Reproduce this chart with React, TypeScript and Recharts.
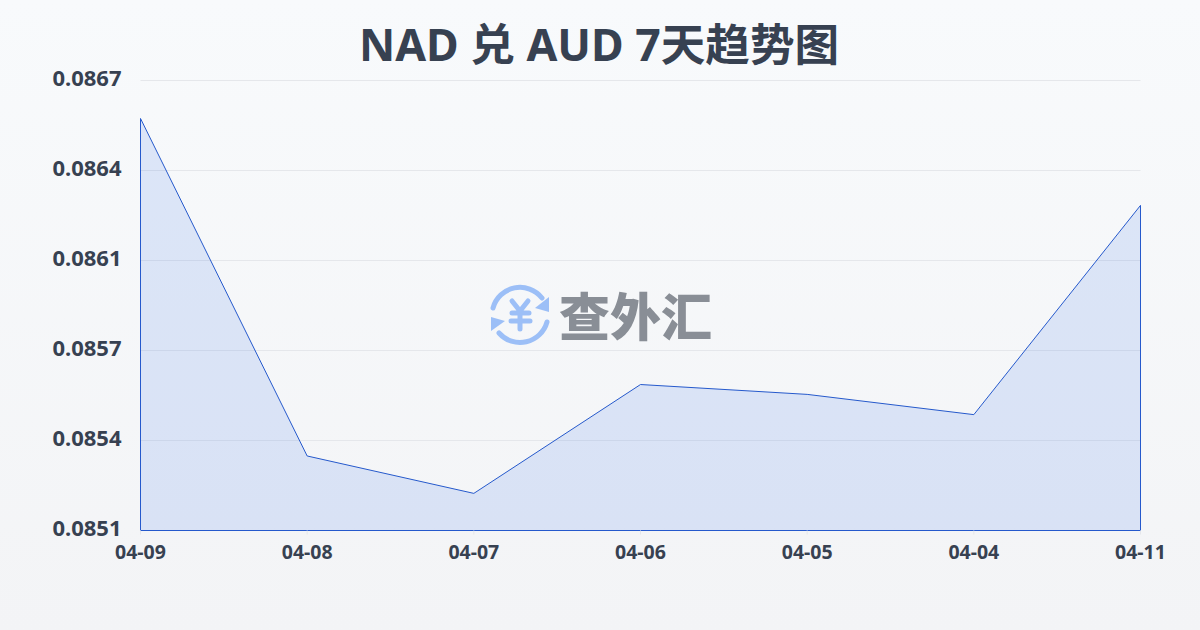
import { AreaChart, Area, XAxis, YAxis, CartesianGrid, ReferenceLine } from 'recharts';

const dates = ['04-09', '04-08', '04-07', '04-06', '04-05', '04-04', '04-11'];
const rates = [0.086565, 0.085365, 0.085232, 0.085619, 0.085584, 0.085512, 0.086256];
const yTicks = [0.0851, 0.08542, 0.08574, 0.08606, 0.08638, 0.0867];

const FONT = '"Noto Sans", "Noto Sans CJK SC", sans-serif';
const LINE = '#2559cc';
const chartData = dates.map((date, i) => ({ date, rate: rates[i] }));

// Exchange logo sitting in the middle of the plot
function Watermark() {
  return (
    <div style={{ position: 'absolute', left: 488, top: 284, width: 230, height: 62, pointerEvents: 'none' }}>
      <svg width={64} height={62} viewBox="0 0 64 62" style={{ position: 'absolute', left: 0, top: 0 }}>
        <g fill="none" stroke="#9cbff7" strokeWidth={5} strokeLinecap="round">
          <path d="M5 24 A28 28 0 0 1 54 14" />
          <path d="M59 38 A28 28 0 0 1 11 49" />
          <path d="M24 17 L32 27 L40 17 M32 27 L32 45 M24 29 H41 M23 37 H42" />
        </g>
        <path d="M61 13 L61 28 L47 24 Z" fill="#9cbff7" />
        <path d="M3 33 L3 47 L17 37 Z" fill="#9cbff7" />
      </svg>
      <div
        style={{
          position: 'absolute',
          left: 71,
          top: -1,
          fontFamily: '"Noto Sans CJK SC", sans-serif',
          fontWeight: 900,
          fontSize: 51,
          lineHeight: '62px',
          color: '#898e96',
          whiteSpace: 'nowrap',
        }}
      >
        查外汇
      </div>
    </div>
  );
}

export default function App() {
  const lastDate = dates[dates.length - 1];
  const lastRate = rates[rates.length - 1];
  return (
    <div
      style={{
        position: 'absolute',
        left: 0,
        top: 0,
        width: 1200,
        height: 630,
        overflow: 'hidden',
        background: 'linear-gradient(180deg, #f8fafc 0%, #f3f4f6 100%)',
        fontFamily: FONT,
      }}
    >
      <div
        style={{
          position: 'absolute',
          left: 0,
          top: 14,
          width: 1198,
          textAlign: 'center',
          fontSize: 44.6,
          lineHeight: '60px',
          fontWeight: 700,
          color: '#374151',
        }}
      >
        NAD 兑 AUD 7天趋势图
      </div>
      <div style={{ position: 'absolute', left: 0, top: 0 }}>
        {/* half pixel margins keep the 1px grid lines crisp */}
        <AreaChart width={1200} height={630} data={chartData} margin={{ top: 80.5, right: 59.5, bottom: 0, left: 0 }}>
          <CartesianGrid horizontal vertical={false} stroke="#e5e7eb" strokeWidth={1} />
          <XAxis
            dataKey="date"
            interval={0}
            scale="point"
            height={99.5}
            axisLine={false}
            tickLine={{ stroke: '#e5e7eb' }}
            tickSize={4}
            tickMargin={11}
            tick={{ fill: '#374151', fontSize: 19.5, fontWeight: 700, fontFamily: FONT }}
          />
          <YAxis
            width={140.5}
            domain={[0.0851, 0.0867]}
            ticks={yTicks}
            tickFormatter={(v: number) => v.toFixed(4)}
            axisLine={false}
            tickLine={false}
            tickMargin={13}
            tick={{ fill: '#374151', fontSize: 22, fontWeight: 700, fontFamily: FONT, dy: -2 }}
          />
          <Area
            type="linear"
            dataKey="rate"
            stroke={LINE}
            strokeWidth={1}
            fill="#2563eb"
            fillOpacity={0.13}
            dot={false}
            activeDot={false}
            isAnimationActive={false}
          />
          <ReferenceLine stroke={LINE} strokeWidth={1} segment={[{ x: dates[0], y: rates[0] }, { x: dates[0], y: 0.0851 }]} />
          <ReferenceLine stroke={LINE} strokeWidth={1} segment={[{ x: lastDate, y: lastRate }, { x: lastDate, y: 0.0851 }]} />
          <ReferenceLine y={0.0851} stroke={LINE} strokeWidth={1} />
        </AreaChart>
      </div>
      <Watermark />
    </div>
  );
}
